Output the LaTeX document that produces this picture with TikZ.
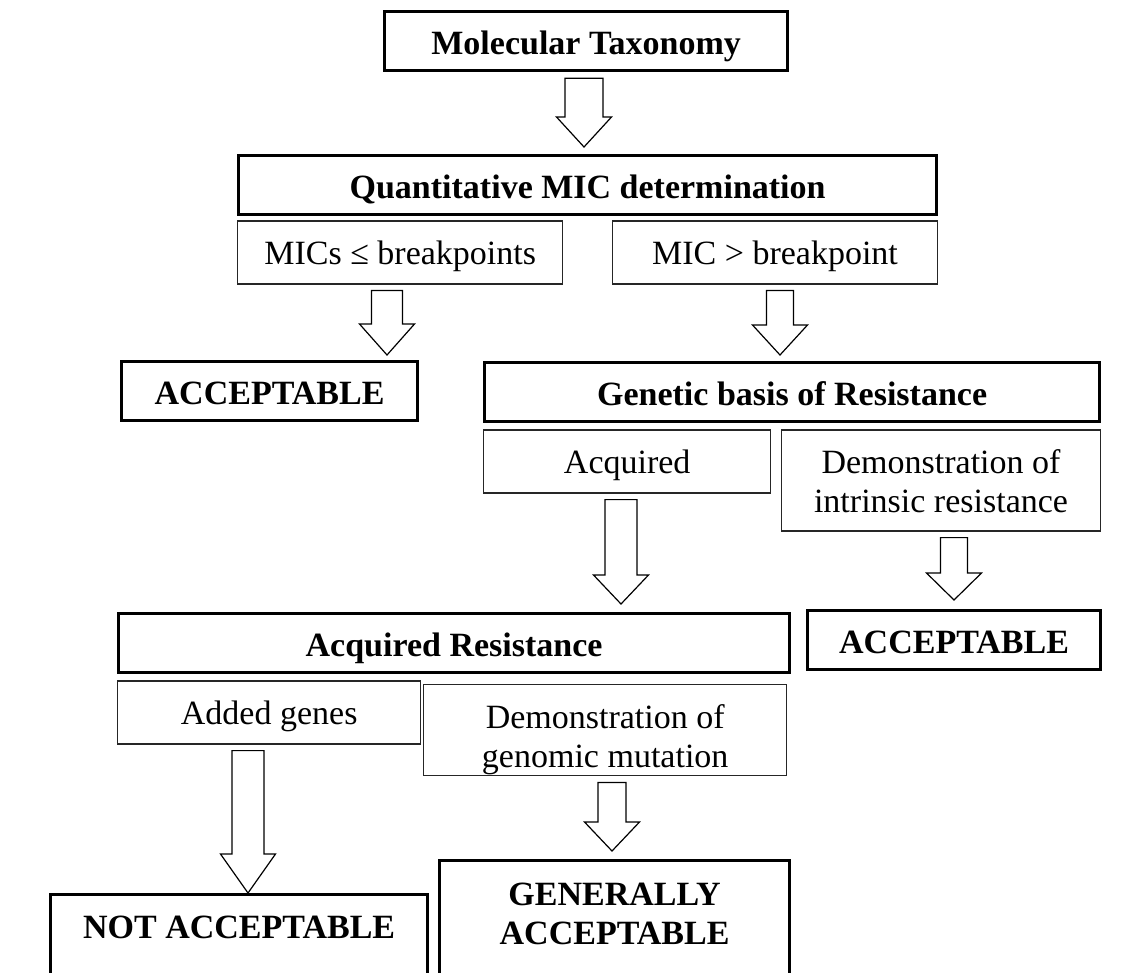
\documentclass[tikz,border=0pt]{standalone}
\usepackage{fontspec}
\setmainfont{Liberation Serif}
\usetikzlibrary{positioning,calc}
\tikzset{
  box/.style  ={draw, anchor=north west, inner xsep=2pt, inner ysep=0pt,
                text height=22pt, text depth=9.5pt,
                font=\fontsize{17}{19.5}\selectfont},
  main/.style ={box, line width=1.6pt, text height=21.5pt, text depth=8pt,
                font=\fontsize{17}{19.5}\selectfont\bfseries},
  sub/.style  ={box, line width=0.7pt, draw=black!85},
  fat/.style  ={draw, line width=0.6pt, fill=white, line join=miter},
}
% block arrow: from, to, axis x, shaft half width, head length, gap at tip
\newcommand{\fatarrow}[6]{%
  \path (#3,0 |- #1.south) coordinate (fa-top)
        (#3,0 |- #2.north) coordinate (fa-tip);
  \draw[fat] ($(fa-top)+(-#4,6)$) -- ($(fa-top)+(#4,6)$)
    -- ($(fa-tip)+(#4,-#5-#6)$) -- ($(fa-tip)+(27.5,-#5-#6)$)
    -- ($(fa-tip)+(0,-#6)$) -- ($(fa-tip)+(-27.5,-#5-#6)$)
    -- ($(fa-tip)+(-#4,-#5-#6)$) -- cycle;}

\begin{document}
\begin{tikzpicture}[x=0.5pt, y=-0.5pt]
  \useasboundingbox (0,0) rectangle (1140,973);
  \clip (0,0) rectangle (1140,973);

  % ---- taxonomy and MIC ----------------------------------------------
  \node[main, minimum width=201.5pt] (mt) at (383,10) {Molecular Taxonomy};
  \node[main, minimum width=349pt] (qd) at (237,154) {Quantitative MIC determination};
  \node[sub, minimum width=162.5pt, below right=2pt and 0pt of qd.south west] (mle)
        {MICs ≤ breakpoints};
  \node[sub, minimum width=162.5pt, below left=2pt and 0pt of qd.south east] (mgt)
        {MIC > breakpoint};
  \node[main, minimum width=148pt] (acc) at (120,360) {ACCEPTABLE};

  % ---- genetic basis -------------------------------------------------
  \node[main, minimum width=307.5pt] (gb) at (483,361) {Genetic basis of Resistance};
  \node[sub, minimum width=143.5pt, below right=3pt and 0pt of gb.south west] (aq)
        {Acquired};
  \node[sub, minimum width=159.5pt, text depth=28.5pt,
        below left=3pt and 0pt of gb.south east] (intr)
        {\begin{tabular}[t]{@{}c@{}}Demonstration of\\intrinsic resistance\end{tabular}};
  \node[main, minimum width=146.5pt] (accb) at (806,609) {ACCEPTABLE};

  % ---- acquired resistance -------------------------------------------
  \node[main, minimum width=335.5pt] (ar) at (117,612) {Acquired Resistance};
  \node[sub, minimum width=151.5pt, below right=3pt and 0pt of ar.south west] (ag)
        {Added genes};
  \node[sub, minimum width=181.5pt, text depth=23.5pt] (gm) at (423,684)
        {\begin{tabular}[t]{@{}c@{}}Demonstration of\\genomic mutation\end{tabular}};
  \node[main, minimum width=188.5pt, text height=22pt, text depth=50pt] (nacc) at (49,893)
        {NOT ACCEPTABLE};
  \node[main, minimum width=175pt, text height=22.5pt, text depth=50pt] (gacc) at (438,859)
        {\begin{tabular}[t]{@{}c@{}}GENERALLY\\ACCEPTABLE\end{tabular}};

  % ---- block arrows --------------------------------------------------
  \fatarrow{mt}{qd}{584}{19}{30}{7}
  \fatarrow{mle}{acc}{387}{15.5}{31}{5}
  \fatarrow{mgt}{gb}{780}{13.5}{30}{6}
  \fatarrow{aq}{ar}{621}{16}{29}{8}
  \fatarrow{intr}{accb}{954}{13.5}{27}{9}
  \fatarrow{ag}{nacc}{248}{16}{39}{0}
  \fatarrow{gm}{gacc}{612}{14}{29}{8}
\end{tikzpicture}
\end{document}
